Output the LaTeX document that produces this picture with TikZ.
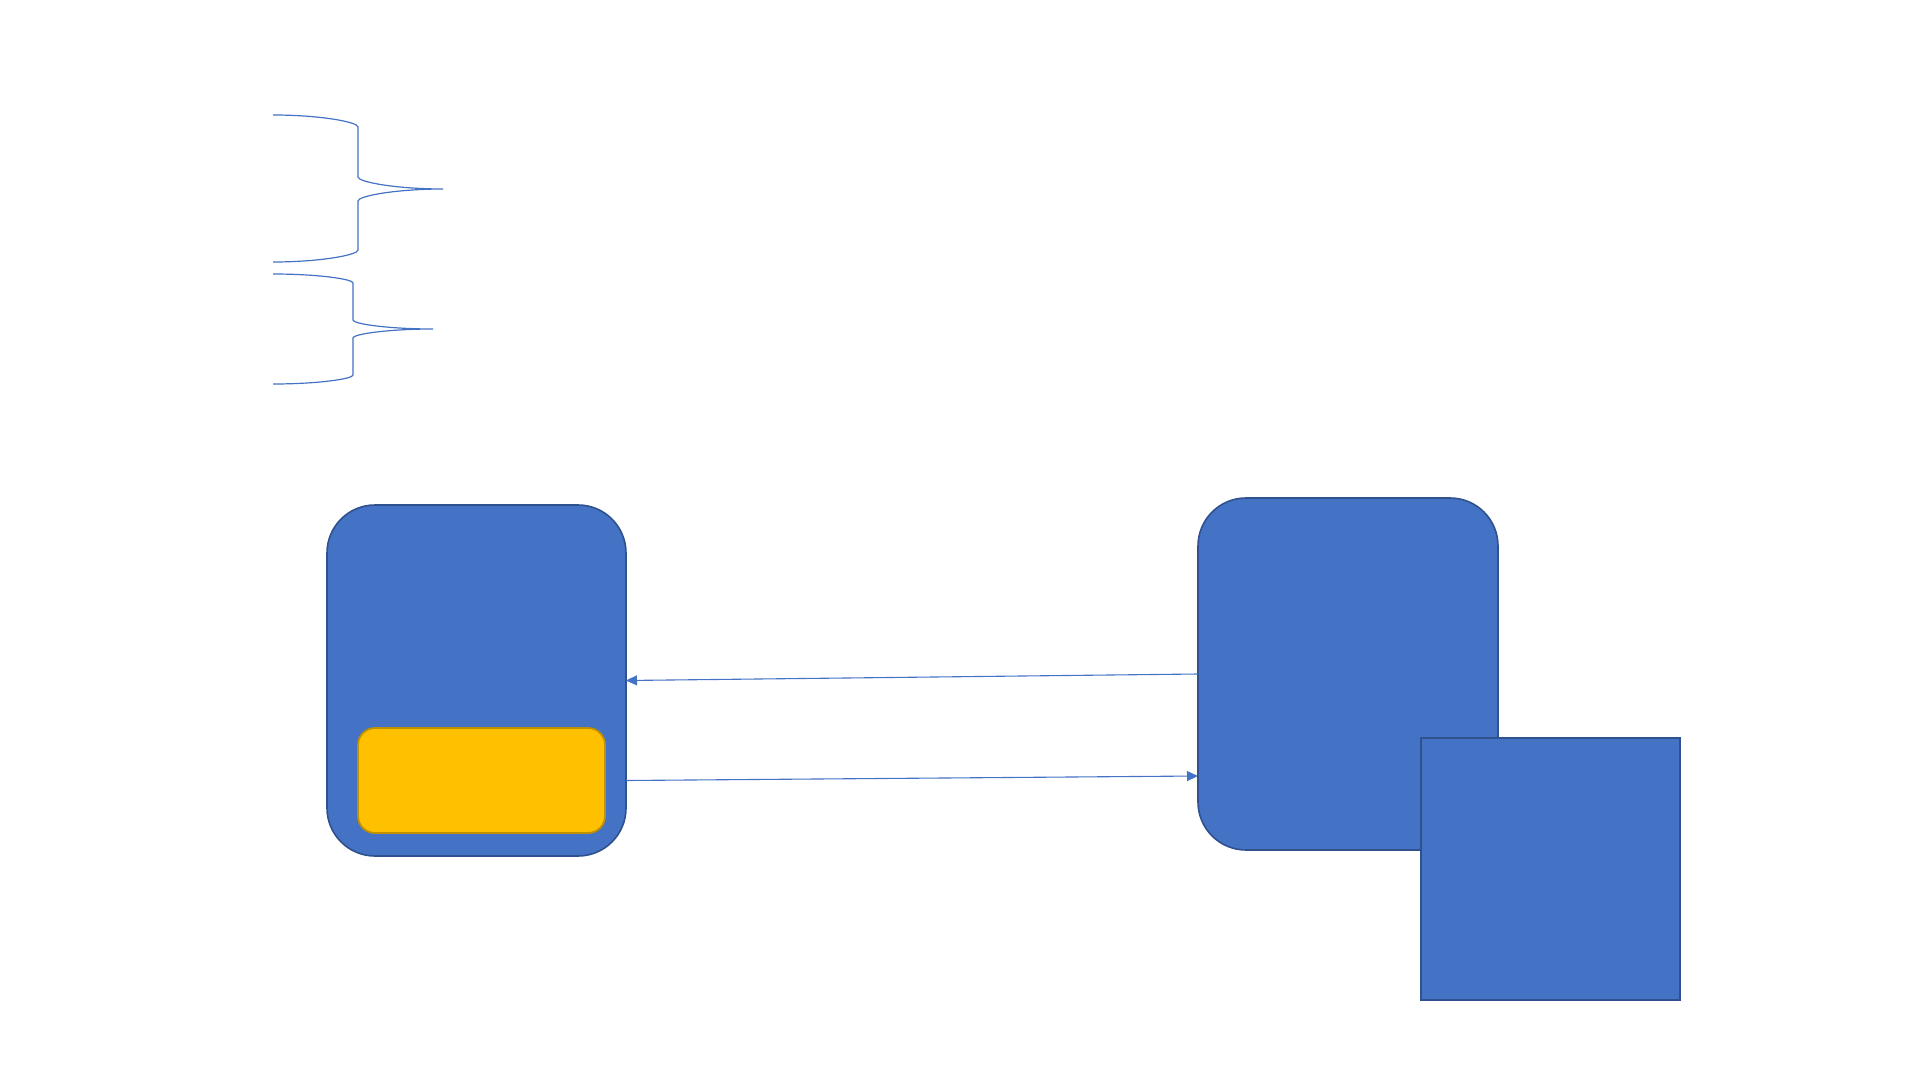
\documentclass[tikz,border=0pt]{standalone}
\usetikzlibrary{arrows.meta,calc}
\definecolor{accblue}{HTML}{4472C4}
\definecolor{darkblue}{HTML}{2F528F}
\definecolor{gold}{HTML}{FFC000}
\definecolor{darkgold}{HTML}{BF9000}
\begin{document}
\begin{tikzpicture}[x=0.5pt,y=-0.5pt,
  bluebox/.style={draw=darkblue,fill=accblue,line width=0.8pt,inner sep=0pt,outer sep=0pt},
  roundbox/.style={bluebox,rounded corners=24pt},
  yellowbox/.style={draw=darkgold,fill=gold,line width=0.9pt,rounded corners=8.5pt,inner sep=0pt,outer sep=0pt},
  brace/.style={draw=accblue,line width=0.6pt},
  conn/.style={draw=accblue,line width=0.55pt,-{Triangle[length=5.5pt,width=5pt]}}]
\useasboundingbox (0,0) rectangle (1920,1080);
% braces
\draw[brace] (273,115) .. controls (320,115) and (358,122) .. (358,127)
  -- (358,177) .. controls (358,182) and (396,189) .. (443,189)
  .. controls (396,189) and (358,196) .. (358,201)
  -- (358,250) .. controls (358,255) and (320,262) .. (273,262);
\draw[brace] (273,274) .. controls (317,274) and (353,279) .. (353,283)
  -- (353,320) .. controls (353,324) and (389,329) .. (433,329)
  .. controls (389,329) and (353,334) .. (353,338)
  -- (353,375) .. controls (353,379) and (317,384) .. (273,384);
% boxes
\node[roundbox,minimum width=149.5pt,minimum height=175.5pt] (lb) at (476.5,680.5) {};
\node[yellowbox,minimum width=123.5pt,minimum height=52.5pt] (yb) at (481.5,780.5) {};
\node[roundbox,minimum width=150pt,minimum height=176pt] (rb) at (1348,674) {};
\node[bluebox,minimum width=129.5pt,minimum height=131pt] (sq) at (1550.5,869) {};
% connectors
\coordinate (bs) at (lb.east |- yb.east);
\coordinate (be) at ($(rb.west)+(0,102)$);
\draw[conn] (rb.west) -- (lb.east);
\draw[conn] (bs) -- (be);
\end{tikzpicture}
\end{document}
